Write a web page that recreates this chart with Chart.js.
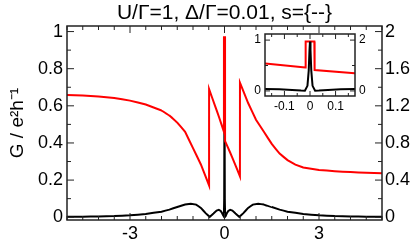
<!DOCTYPE html>
<html>
<head>
<meta charset="utf-8">
<script src="https://cdn.jsdelivr.net/npm/chart.js@4.4.1/dist/chart.umd.min.js"></script>
<style>
  body { margin: 0; background: #fff; }
  #wrap { position: relative; width: 411px; height: 240px; }
  #main { position: absolute; left: 0; top: 0; }
  #inset { position: absolute; left: 240px; top: 28px; }
</style>
</head>
<body>
<div id="wrap">
  <canvas id="main" width="411" height="240"></canvas>
  <canvas id="inset" width="140" height="90"></canvas>
</div>
<script>
// black curve, G in e^2/h (left axis)
const gX   = [-5, -4.5, -4, -3.5, -3, -2.5, -2, -1.75, -1.5, -1.25, -1.07, -0.9, -0.75, -0.6, -0.47, -0.35, -0.25, -0.18, -0.12, -0.07, -0.035, -0.02, -0.01, -0.005, -0.002, 0,
              0.002, 0.005, 0.01, 0.02, 0.035, 0.07, 0.12, 0.18, 0.25, 0.35, 0.47, 0.6, 0.75, 0.9, 1.07, 1.25, 1.5, 1.75, 2, 2.5, 3, 3.5, 4, 4.5, 5];
const gVal = [0.002, 0.003, 0.004, 0.006, 0.01, 0.017, 0.03, 0.041, 0.055, 0.068, 0.073, 0.068, 0.05, 0.022, 0.002, 0.02, 0.036, 0.04, 0.034, 0.02, 0.006, 0.003, 0.1, 0.4, 0.8, 0.97,
              0.8, 0.4, 0.1, 0.003, 0.006, 0.02, 0.034, 0.04, 0.036, 0.02, 0.002, 0.022, 0.05, 0.068, 0.073, 0.068, 0.055, 0.041, 0.03, 0.017, 0.01, 0.006, 0.004, 0.003, 0.002];

// red curve (right axis)
const sX   = [-5, -4.5, -4, -3.5, -3, -2.5, -2, -1.75, -1.5, -1.25, -1, -0.75, -0.49, -0.489, -0.3, -0.175, -0.018, -0.017, 0.017, 0.018, 0.175, 0.3, 0.49, 0.491,
              0.75, 1, 1.25, 1.5, 1.75, 2, 2.25, 2.5, 3, 3.5, 4, 4.5, 5];
const sVal = [1.316, 1.31, 1.3, 1.284, 1.256, 1.214, 1.15, 1.096, 1.02, 0.92, 0.745, 0.568, 0.342, 1.38, 1.2, 1.08, 0.92, 1.94, 1.94, 0.82, 0.7, 0.6, 0.44, 1.45,
              1.23, 1.05, 0.92, 0.79, 0.685, 0.615, 0.567, 0.535, 0.508, 0.496, 0.486, 0.479, 0.474];

const xLabels  = [-3, 0, 3];
const yLabels  = [0, 0.2, 0.4, 0.6, 0.8, 1];
const y2Labels = [0, 0.4, 0.8, 1.2, 1.6, 2];
const insetXLabels  = [-0.1, 0, 0.1];
const insetYLabels  = [0, 1];
const insetY2Labels = [0, 2];

Chart.defaults.font.family = '"Liberation Sans", Arial, Helvetica, sans-serif';
Chart.defaults.color = '#000';

function steps(from, to, step) {
  let out = [];
  for (let v = from; v <= to + 1e-9; v += step) out.push(Math.round(v * 1000) / 1000);
  return out;
}
const pts = (xs, ys) => xs.map((x, i) => ({ x: x, y: ys[i] }));
const has = (arr, v) => arr.some(a => Math.abs(a - v) < 1e-6);

// scale with fixed size and own tick list
function axis(opts) {
  return {
    type: 'linear',
    position: opts.position,
    min: opts.min,
    max: opts.max,
    grid: { display: false, drawTicks: false },
    border: { display: false },
    afterBuildTicks: s => { s.ticks = opts.ticks.map(v => ({ value: v })); },
    afterFit: s => {
      if (opts.width) s.width = opts.width;
      if (opts.height) s.height = opts.height;
      s.paddingTop = s.paddingBottom = s.paddingLeft = s.paddingRight = 0;
    },
    ticks: {
      autoSkip: false,
      maxRotation: 0,
      padding: opts.pad,
      font: { size: opts.size },
      callback: v => has(opts.labels, v) ? String(v) : ''
    },
    title: opts.title || { display: false }
  };
}

// frame box plus inward ticks on all four sides
function frame(major, minor, lw, labels) {
  return {
    id: 'frame',
    beforeDraw(chart) {
      const a = chart.chartArea, ctx = chart.ctx;
      ctx.save();
      ctx.fillStyle = '#fff';
      ctx.fillRect(a.left, a.top, a.right - a.left, a.bottom - a.top);
      ctx.restore();
    },
    afterDraw(chart) {
      const a = chart.chartArea, ctx = chart.ctx, sc = chart.scales;
      ctx.save();
      ctx.strokeStyle = '#222';
      ctx.lineWidth = 1;
      ctx.beginPath();
      sc.x.ticks.forEach(t => {
        const p = sc.x.getPixelForValue(t.value);
        const len = has(labels.x, t.value) ? major : minor;
        ctx.moveTo(p, a.bottom); ctx.lineTo(p, a.bottom - len);
        ctx.moveTo(p, a.top); ctx.lineTo(p, a.top + len);
      });
      sc.y.ticks.forEach(t => {
        const p = sc.y.getPixelForValue(t.value);
        const len = has(labels.y, t.value) ? major : minor;
        ctx.moveTo(a.left, p); ctx.lineTo(a.left + len, p);
      });
      sc.y2.ticks.forEach(t => {
        const p = sc.y2.getPixelForValue(t.value);
        const len = has(labels.y2, t.value) ? major : minor;
        ctx.moveTo(a.right, p); ctx.lineTo(a.right - len, p);
      });
      ctx.stroke();
      ctx.lineWidth = lw;
      ctx.strokeRect(a.left, a.top, a.right - a.left, a.bottom - a.top);
      ctx.restore();
    }
  };
}

// main plot: red drawn over black; tiny tension keeps every vertex (no pixel merging)
new Chart(document.getElementById('main'), {
  type: 'line',
  data: {
    datasets: [
      { data: pts(sX, sVal), yAxisID: 'y2', borderColor: '#ff0000', borderWidth: 2, pointRadius: 0, tension: 0.000001, order: 0 },
      { data: pts(gX, gVal), yAxisID: 'y', borderColor: '#000000', borderWidth: 2, pointRadius: 0, tension: 0.000001, order: 1 }
    ]
  },
  options: {
    responsive: false,
    animation: false,
    devicePixelRatio: 1,
    layout: { padding: 0 },
    plugins: {
      legend: { display: false },
      tooltip: { enabled: false },
      title: {
        display: true,
        fullSize: false,
        text: 'U/Γ=1, Δ/Γ=0.01, s={--}',
        color: '#000',
        font: { size: 21, weight: 'normal', lineHeight: 1.15 },
        padding: { top: 1, bottom: 0.85 }
      }
    },
    scales: {
      x: axis({ position: 'bottom', min: -5, max: 5, ticks: steps(-5, 5, 0.5), labels: xLabels, height: 20, pad: 3, size: 18 }),
      y: axis({ position: 'left', min: -0.015, max: 1.03, ticks: steps(0, 1, 0.1), labels: yLabels, width: 67, pad: 4, size: 18,
                title: { display: true, text: 'G / e²h⁻¹', color: '#000', font: { size: 19 }, padding: { top: 6 } } }),
      y2: axis({ position: 'right', min: -0.03, max: 2.06, ticks: steps(0, 2, 0.2), labels: y2Labels, width: 29, pad: 3, size: 18 })
    }
  },
  plugins: [frame(7, 4, 1.5, { x: xLabels, y: yLabels, y2: y2Labels })]
});

// inset: zoom around zero bias
new Chart(document.getElementById('inset'), {
  type: 'line',
  data: {
    datasets: [
      { data: pts(gX, gVal), yAxisID: 'y', borderColor: '#000000', borderWidth: 2, pointRadius: 0, tension: 0, order: 0 },
      { data: pts(sX, sVal), yAxisID: 'y2', borderColor: '#ff0000', borderWidth: 2, pointRadius: 0, tension: 0, order: 1 }
    ]
  },
  options: {
    responsive: false,
    animation: false,
    devicePixelRatio: 1,
    layout: { padding: { top: 6 } },
    plugins: { legend: { display: false }, tooltip: { enabled: false } },
    scales: {
      x: axis({ position: 'bottom', min: -0.176, max: 0.176, ticks: steps(-0.15, 0.15, 0.05), labels: insetXLabels, height: 22, pad: 3, size: 12 }),
      y: axis({ position: 'left', min: -0.1, max: 1.12, ticks: steps(0, 1, 0.5), labels: insetYLabels, width: 25, pad: 4, size: 12 }),
      y2: axis({ position: 'right', min: -0.2, max: 2.24, ticks: steps(0, 2, 1), labels: insetY2Labels, width: 25, pad: 4, size: 12 })
    }
  },
  plugins: [frame(5, 3, 1.5, { x: insetXLabels, y: insetYLabels, y2: insetY2Labels })]
});
</script>
</body>
</html>
